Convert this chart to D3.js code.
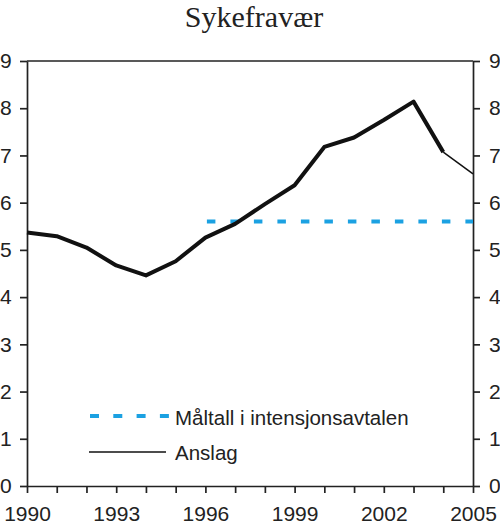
<!DOCTYPE html>
<meta charset="utf-8">
<style>
  body { margin: 0; background: #fff; }
  .tick text { font-family: "Liberation Sans", Arial, sans-serif; font-size: 21px; fill: #222; }
  .tick line, .domain { stroke: #222; stroke-width: 1.7px; }
  .title { font-family: "Liberation Serif", "Times New Roman", serif; font-size: 30px; fill: #222; }
  .legend text { font-family: "Liberation Sans", Arial, sans-serif; font-size: 20.5px; fill: #222; }
</style>
<body>
<div id="chart"></div>
<script src="https://d3js.org/d3.v7.js"></script>
<script>
  var years = [1990, 1991, 1992, 1993, 1994, 1995, 1996, 1997, 1998, 1999, 2000, 2001, 2002, 2003, 2004, 2005];
  var sykefravaer = [5.37, 5.29, 5.05, 4.67, 4.46, 4.76, 5.26, 5.55, 5.97, 6.37, 7.18, 7.38, 7.75, 8.14, 7.07, 6.61];
  var lastActual = 2004;         // thick line up to here, thin "Anslag" after
  var targetYears = [1996, 2005];
  var targetValue = 5.6;
  var xTickLabels = [1990, 1993, 1996, 1999, 2002, 2005];
  var yTicks = [0, 1, 2, 3, 4, 5, 6, 7, 8, 9];
  var legendLabels = ["Måltall i intensjonsavtalen", "Anslag"];

  var width = 500, height = 530;
  var margin = {top: 61, right: 27, bottom: 44, left: 27};

  var svg = d3.select("#chart").append("svg")
    .attr("width", width)
    .attr("height", height);

  var x = d3.scaleLinear()
    .domain([1990, 2005])
    .range([margin.left, width - margin.right]);

  var y = d3.scaleLinear()
    .domain([0, 9])
    .range([height - margin.bottom, margin.top]);

  svg.append("text")
    .attr("class", "title")
    .attr("x", 254)
    .attr("y", 27)
    .attr("text-anchor", "middle")
    .text("Sykefravær");

  // top frame line
  svg.append("line")
    .attr("x1", x(1990)).attr("x2", x(2005))
    .attr("y1", y(9)).attr("y2", y(9))
    .attr("stroke", "#222").attr("stroke-width", 1.7);

  svg.append("g")
    .attr("transform", "translate(" + margin.left + ",0)")
    .call(d3.axisLeft(y).tickValues(yTicks).tickSize(7).tickPadding(10).tickSizeOuter(0))
    .selectAll("text").attr("text-anchor", "start").attr("x", -27);

  svg.append("g")
    .attr("transform", "translate(" + (width - margin.right) + ",0)")
    .call(d3.axisRight(y).tickValues(yTicks).tickSize(7).tickPadding(9).tickSizeOuter(0));

  svg.append("g")
    .attr("transform", "translate(0," + y(0) + ")")
    .call(d3.axisBottom(x).tickValues(years).tickSize(7).tickPadding(13).tickSizeOuter(0)
      .tickFormat(function(d) { return xTickLabels.indexOf(d) >= 0 ? d : ""; }));

  var data = years.map(function(yr, i) { return {year: yr, value: sykefravaer[i]}; });

  var line = d3.line()
    .x(function(d) { return x(d.year); })
    .y(function(d) { return y(d.value); });

  // target line
  svg.append("line")
    .attr("x1", x(targetYears[0]) + 1.5).attr("x2", x(targetYears[1]))
    .attr("y1", y(targetValue)).attr("y2", y(targetValue))
    .attr("stroke", "#1ba1e2")
    .attr("stroke-width", 4)
    .attr("stroke-dasharray", "8.5,15");

  svg.append("path")
    .datum(data.filter(function(d) { return d.year <= lastActual; }))
    .attr("d", line)
    .attr("fill", "none")
    .attr("stroke", "#111")
    .attr("stroke-width", 4)
    .attr("stroke-linejoin", "round");

  svg.append("path")
    .datum(data.filter(function(d) { return d.year >= lastActual; }))
    .attr("d", line)
    .attr("fill", "none")
    .attr("stroke", "#111")
    .attr("stroke-width", 1.5);

  // legend
  var legend = svg.append("g").attr("class", "legend");
  legend.append("line")
    .attr("x1", 90).attr("x2", 169)
    .attr("y1", 416).attr("y2", 416)
    .attr("stroke", "#1ba1e2").attr("stroke-width", 4)
    .attr("stroke-dasharray", "9,14.3");
  legend.append("text")
    .attr("x", 175).attr("y", 425)
    .text(legendLabels[0]);
  legend.append("line")
    .attr("x1", 89).attr("x2", 166)
    .attr("y1", 452).attr("y2", 452)
    .attr("stroke", "#111").attr("stroke-width", 1.5);
  legend.append("text")
    .attr("x", 175).attr("y", 460)
    .text(legendLabels[1]);
</script>
</body>
</html>
